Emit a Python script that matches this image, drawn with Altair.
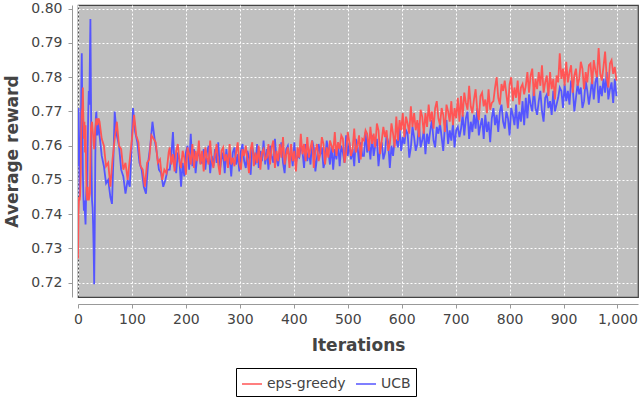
import altair as alt
import pandas as pd

# ---------------- data ----------------
series_names = ["eps-greedy", "UCB"]
series_colors = ["#ff5555", "#5555ff"]

eps_iter = (list(range(0, 21)) + [22, 24, 26, 28, 30, 32, 34, 36, 38]
            + list(range(40, 169, 4)) + list(range(170, 1001, 3)))
eps_reward = [
    # 0-20, 22-38
    0.727, 0.741, 0.745, 0.744, 0.746, 0.752, 0.765, 0.770, 0.771, 0.777,
    0.768, 0.762, 0.767, 0.758, 0.766, 0.754, 0.746, 0.744, 0.748, 0.745, 0.744,
    0.746, 0.765, 0.767, 0.763, 0.759, 0.765, 0.768, 0.766, 0.768,
    # 40-168 (step 4)
    0.767, 0.762, 0.760, 0.754, 0.755, 0.748, 0.756, 0.762, 0.767, 0.760,
    0.759, 0.753, 0.755, 0.750, 0.756, 0.762, 0.769, 0.763, 0.761, 0.754,
    0.753, 0.748, 0.755, 0.756, 0.763, 0.762, 0.761, 0.755, 0.756, 0.750,
    0.753, 0.752, 0.758,
    # 170-227
    0.7595, 0.7545, 0.7575, 0.7525, 0.7585, 0.7605, 0.7555, 0.7535, 0.7585, 0.7565,
    0.7515, 0.7595, 0.7575, 0.7545, 0.7605, 0.7535, 0.7585, 0.7555, 0.7615, 0.7545,
    # 230-287
    0.7585, 0.7525, 0.7595, 0.7565, 0.7545, 0.7615, 0.7555, 0.7535, 0.7575, 0.7605,
    0.7545, 0.7515, 0.7585, 0.7595, 0.7555, 0.7575, 0.7535, 0.7605, 0.7545, 0.7565,
    # 290-347
    0.7540, 0.7580, 0.7610, 0.7550, 0.7530, 0.7590, 0.7570, 0.7600, 0.7560, 0.7520,
    0.7590, 0.7610, 0.7540, 0.7580, 0.7550, 0.7600, 0.7530, 0.7580, 0.7590, 0.7560,
    # 350-407
    0.7565, 0.7605, 0.7545, 0.7595, 0.7615, 0.7535, 0.7585, 0.7555, 0.7605, 0.7565,
    0.7625, 0.7545, 0.7575, 0.7595, 0.7535, 0.7605, 0.7555, 0.7585, 0.7525, 0.7595,
    # 410-467
    0.7565, 0.7635, 0.7575, 0.7605, 0.7555, 0.7625, 0.7565, 0.7595, 0.7615, 0.7535,
    0.7585, 0.7605, 0.7555, 0.7575, 0.7625, 0.7605, 0.7545, 0.7595, 0.7565, 0.7615,
    # 470-527
    0.7600, 0.7580, 0.7640, 0.7570, 0.7610, 0.7590, 0.7630, 0.7620, 0.7550, 0.7580,
    0.7640, 0.7610, 0.7570, 0.7590, 0.7650, 0.7580, 0.7600, 0.7630, 0.7560, 0.7620,
    # 530-587
    0.7615, 0.7645, 0.7635, 0.7585, 0.7655, 0.7605, 0.7635, 0.7595, 0.7665, 0.7645,
    0.7575, 0.7615, 0.7655, 0.7625, 0.7645, 0.7585, 0.7605, 0.7665, 0.7635, 0.7595,
    # 590-647
    0.7685, 0.7615, 0.7675, 0.7645, 0.7695, 0.7625, 0.7685, 0.7665, 0.7635, 0.7715,
    0.7655, 0.7695, 0.7645, 0.7675, 0.7625, 0.7705, 0.7685, 0.7635, 0.7695, 0.7655,
    # 650-707
    0.7720, 0.7670, 0.7700, 0.7650, 0.7710, 0.7730, 0.7680, 0.7660, 0.7710, 0.7690,
    0.7640, 0.7720, 0.7700, 0.7670, 0.7730, 0.7660, 0.7710, 0.7680, 0.7740, 0.7670,
    # 710-767
    0.7745, 0.7685, 0.7755, 0.7725, 0.7705, 0.7775, 0.7715, 0.7695, 0.7735, 0.7765,
    0.7705, 0.7675, 0.7745, 0.7755, 0.7715, 0.7735, 0.7695, 0.7765, 0.7705, 0.7725,
    # 770-827
    0.7730, 0.7770, 0.7800, 0.7740, 0.7720, 0.7780, 0.7760, 0.7790, 0.7750, 0.7710,
    0.7780, 0.7800, 0.7730, 0.7770, 0.7740, 0.7790, 0.7720, 0.7770, 0.7780, 0.7750,
    # 830-887
    0.7775, 0.7815, 0.7755, 0.7805, 0.7825, 0.7745, 0.7795, 0.7765, 0.7815, 0.7775,
    0.7835, 0.7755, 0.7785, 0.7805, 0.7745, 0.7815, 0.7765, 0.7795, 0.7735, 0.7805,
    # 890-947
    0.7785, 0.7870, 0.7795, 0.7825, 0.7775, 0.7845, 0.7785, 0.7815, 0.7835, 0.7755,
    0.7805, 0.7825, 0.7775, 0.7795, 0.7845, 0.7825, 0.7765, 0.7815, 0.7785, 0.7835,
    # 950-998
    0.7840, 0.7780, 0.7850, 0.7820, 0.7800, 0.7885, 0.7810, 0.7790, 0.7830, 0.7875,
    0.7800, 0.7770, 0.7840, 0.7850, 0.7810, 0.7830, 0.7790,
]

ucb_iter = (list(range(0, 37)) + [38]
            + [40, 44, 48, 52, 56, 60, 63, 66, 68, 72, 76, 80, 84, 88, 92, 96, 99, 102,
               106, 110, 114, 118, 122, 126, 130, 134, 138, 142, 146, 150, 154, 158, 162, 166]
            + list(range(170, 1001, 3)))
ucb_reward = [
    # 0-36, 38
    0.754, 0.771, 0.760, 0.745, 0.748, 0.760, 0.775, 0.787, 0.770, 0.752,
    0.745, 0.741, 0.744, 0.740, 0.737, 0.745, 0.748, 0.745, 0.760, 0.770,
    0.776, 0.772, 0.785, 0.797, 0.775, 0.755, 0.744, 0.742, 0.737, 0.730,
    0.7195, 0.735, 0.755, 0.768, 0.770, 0.766, 0.763, 0.767,
    # 40-166
    0.763, 0.757, 0.754, 0.749, 0.750, 0.745, 0.743, 0.758, 0.770, 0.763,
    0.760, 0.753, 0.751, 0.746, 0.750, 0.748, 0.758, 0.771, 0.764, 0.761,
    0.755, 0.753, 0.748, 0.746, 0.755, 0.760, 0.767, 0.762, 0.758, 0.753,
    0.752, 0.748, 0.750, 0.753,
    # 170-227
    0.7530, 0.7570, 0.7640, 0.7540, 0.7520, 0.7580, 0.7560, 0.7480, 0.7550, 0.7510,
    0.7580, 0.7600, 0.7530, 0.7635, 0.7540, 0.7590, 0.7520, 0.7570, 0.7580, 0.7550,
    # 230-287
    0.7550, 0.7590, 0.7530, 0.7580, 0.7600, 0.7520, 0.7570, 0.7540, 0.7590, 0.7550,
    0.7610, 0.7530, 0.7560, 0.7580, 0.7520, 0.7590, 0.7540, 0.7570, 0.7510, 0.7580,
    # 290-347
    0.7595, 0.7545, 0.7575, 0.7525, 0.7585, 0.7605, 0.7555, 0.7535, 0.7585, 0.7565,
    0.7515, 0.7595, 0.7575, 0.7545, 0.7605, 0.7535, 0.7585, 0.7555, 0.7615, 0.7545,
    # 350-407
    0.7590, 0.7530, 0.7600, 0.7570, 0.7550, 0.7620, 0.7560, 0.7540, 0.7580, 0.7610,
    0.7550, 0.7520, 0.7590, 0.7600, 0.7560, 0.7580, 0.7540, 0.7610, 0.7550, 0.7570,
    # 410-467
    0.7565, 0.7595, 0.7585, 0.7535, 0.7605, 0.7555, 0.7585, 0.7545, 0.7615, 0.7595,
    0.7525, 0.7565, 0.7605, 0.7575, 0.7595, 0.7535, 0.7555, 0.7615, 0.7585, 0.7545,
    # 470-527
    0.7600, 0.7530, 0.7590, 0.7560, 0.7610, 0.7540, 0.7600, 0.7580, 0.7550, 0.7630,
    0.7570, 0.7610, 0.7560, 0.7590, 0.7540, 0.7620, 0.7600, 0.7550, 0.7610, 0.7570,
    # 530-587
    0.7570, 0.7640, 0.7580, 0.7610, 0.7560, 0.7630, 0.7570, 0.7600, 0.7620, 0.7540,
    0.7590, 0.7610, 0.7560, 0.7580, 0.7630, 0.7610, 0.7535, 0.7600, 0.7570, 0.7620,
    # 590-647
    0.7615, 0.7595, 0.7655, 0.7585, 0.7625, 0.7605, 0.7645, 0.7635, 0.7565, 0.7595,
    0.7655, 0.7625, 0.7585, 0.7605, 0.7665, 0.7595, 0.7615, 0.7645, 0.7575, 0.7635,
    # 650-707
    0.7605, 0.7645, 0.7675, 0.7615, 0.7595, 0.7655, 0.7635, 0.7665, 0.7625, 0.7585,
    0.7655, 0.7675, 0.7605, 0.7645, 0.7615, 0.7665, 0.7595, 0.7645, 0.7655, 0.7625,
    # 710-767
    0.7650, 0.7690, 0.7630, 0.7680, 0.7700, 0.7620, 0.7670, 0.7640, 0.7690, 0.7650,
    0.7710, 0.7630, 0.7660, 0.7680, 0.7620, 0.7690, 0.7640, 0.7670, 0.7610, 0.7680,
    # 770-827
    0.7710, 0.7660, 0.7690, 0.7640, 0.7700, 0.7720, 0.7670, 0.7650, 0.7700, 0.7680,
    0.7630, 0.7710, 0.7690, 0.7660, 0.7720, 0.7650, 0.7700, 0.7670, 0.7730, 0.7660,
    # 830-887
    0.7740, 0.7680, 0.7750, 0.7720, 0.7700, 0.7770, 0.7710, 0.7690, 0.7730, 0.7760,
    0.7700, 0.7670, 0.7740, 0.7750, 0.7710, 0.7730, 0.7690, 0.7760, 0.7700, 0.7720,
    # 890-947
    0.7740, 0.7770, 0.7760, 0.7710, 0.7780, 0.7730, 0.7760, 0.7720, 0.7790, 0.7770,
    0.7700, 0.7740, 0.7780, 0.7750, 0.7770, 0.7710, 0.7730, 0.7790, 0.7760, 0.7720,
    # 950-998
    0.7755, 0.7795, 0.7735, 0.7785, 0.7805, 0.7725, 0.7775, 0.7745, 0.7795, 0.7755,
    0.7815, 0.7735, 0.7765, 0.7785, 0.7725, 0.7795, 0.7745,
]

x_ticks = [0, 100, 200, 300, 400, 500, 600, 700, 800, 900, 1000]
y_ticks = [0.72, 0.73, 0.74, 0.75, 0.76, 0.77, 0.78, 0.79, 0.80]

n_e = min(len(eps_iter), len(eps_reward))
n_u = min(len(ucb_iter), len(ucb_reward))
df_eps = pd.DataFrame({"iteration": eps_iter[:n_e], "reward": eps_reward[:n_e], "series": series_names[0]})
df_ucb = pd.DataFrame({"iteration": ucb_iter[:n_u], "reward": ucb_reward[:n_u], "series": series_names[1]})

FONT = "DejaVu Sans"
TXT = "#444444"

x_enc = alt.X(
    "iteration:Q",
    scale=alt.Scale(domain=[0, 1038], nice=False, zero=False),
    axis=alt.Axis(
        values=x_ticks, format=",d", title="Iterations", offset=7, tickSize=4,
        labelPadding=4, labelFontSize=14, labelFont=FONT, labelColor=TXT,
        titleFont=FONT, titleFontSize=17, titleFontWeight="bold", titleColor=TXT,
        titlePadding=11, domainColor="#999999", tickColor="#999999",
        grid=True, gridColor="white", gridDash=[2, 2], gridWidth=1,
        labelFlush=False, labelOverlap=False,
    ),
)
y_enc = alt.Y(
    "reward:Q",
    scale=alt.Scale(domain=[0.7158, 0.8011], nice=False, zero=False),
    axis=alt.Axis(
        values=y_ticks, format=".2f", title="Average reward", offset=6, tickSize=4,
        labelPadding=6, labelFontSize=14, labelFont=FONT, labelColor=TXT,
        titleFont=FONT, titleFontSize=17, titleFontWeight="bold", titleColor=TXT,
        titlePadding=9, domainColor="#999999", tickColor="#999999",
        grid=True, gridColor="white", gridDash=[2, 2], gridWidth=1,
        labelOverlap=False,
    ),
)
color_enc = alt.Color(
    "series:N",
    scale=alt.Scale(domain=series_names, range=series_colors),
    legend=alt.Legend(title=None),
)

ucb_line = alt.Chart(df_ucb).mark_line(strokeWidth=1.8, clip=True).encode(
    x=x_enc, y=y_enc, color=color_enc, order="iteration:Q"
)
eps_line = alt.Chart(df_eps).mark_line(strokeWidth=1.8, clip=True).encode(
    x=x_enc, y=y_enc, color=color_enc, order="iteration:Q"
)

chart = (
    alt.layer(ucb_line, eps_line)
    .properties(
        width=560, height=292,
        autosize=alt.AutoSizeParams(type="none"),
        padding={"left": 78, "top": 5, "right": 1, "bottom": 104},
        background="white",
    )
    .configure_view(fill="#c0c0c0", stroke="#444444", strokeWidth=1.2)
    .configure_legend(
        orient="none", legendX=158, legendY=363, direction="horizontal",
        strokeColor="black", padding=5, symbolType="stroke", symbolStrokeWidth=1.5,
        symbolSize=400, labelFontSize=14, labelFont=FONT, labelColor=TXT,
        labelOffset=4, columnPadding=7, symbolOpacity=1,
    )
)

chart.save("out.html", embed_options={"renderer": "svg", "actions": False})
